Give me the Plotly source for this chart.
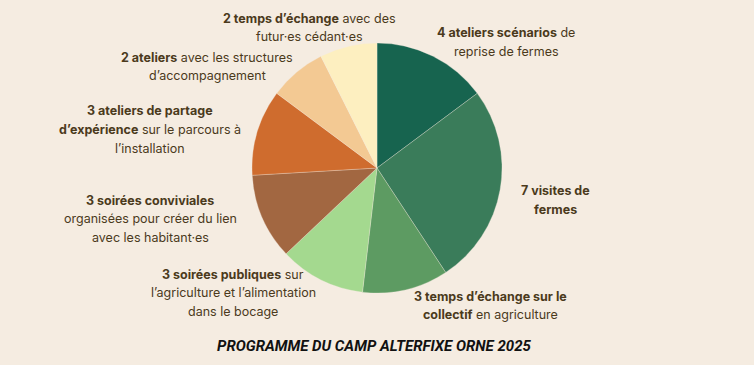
import plotly.graph_objects as go

labels = [
    "4 ateliers scénarios de reprise de fermes",
    "7 visites de fermes",
    "3 temps d'échange sur le collectif en agriculture",
    "3 soirées publiques sur l'agriculture et l'alimentation dans le bocage",
    "3 soirées conviviales organisées pour créer du lien avec les habitant·es",
    "3 ateliers de partage d'expérience sur le parcours à l'installation",
    "2 ateliers avec les structures d'accompagnement",
    "2 temps d'échange avec des futur·es cédant·es",
]
values = [4, 7, 3, 3, 3, 3, 2, 2]
colors = ["#17644f", "#3a7c5a", "#5d9b62", "#a4d98f", "#a26741", "#cf6c2e", "#f3c993", "#fdefc0"]

label_lines = [
    ["<b>4 ateliers scénarios</b> de", "reprise de fermes"],
    ["<b>7 visites de</b>", "<b>fermes</b>"],
    ["<b>3 temps d’échange sur le</b>", "<b>collectif</b> en agriculture"],
    ["<b>3 soirées publiques</b> sur", "l’agriculture et l’alimentation", "dans le bocage"],
    ["<b>3 soirées conviviales</b>", "organisées pour créer du lien", "avec les habitant·es"],
    ["<b>3 ateliers de partage</b>", "<b>d’expérience</b> sur le parcours à", "l’installation"],
    ["<b>2 ateliers</b> avec les structures", "d’accompagnement"],
    ["<b>2 temps d’échange</b> avec des", "futur·es cédant·es"],
]
# label anchor positions (pixels, centre x, first-line centre y)
label_pos = [(506, 33), (555, 191), (490, 296), (233, 274), (150, 200), (150, 111), (207, 57), (309, 18)]

title = "PROGRAMME DU CAMP ALTERFIXE ORNE 2025"

W, H = 754, 365
BG = "#f5ece1"
TXT = "#4b3a1c"
LINE = 18.5

fig = go.Figure(go.Pie(
    labels=labels, values=values, sort=False, direction="clockwise", rotation=0,
    marker=dict(colors=colors, line=dict(color="rgba(245,236,225,0.6)", width=0.5)),
    textinfo="none", hoverinfo="label+value", showlegend=False,
    domain=dict(x=[252 / W, 502 / W], y=[1 - 293 / H, 1 - 43 / H]),
))

annotations = []
for lines, (px, py) in zip(label_lines, label_pos):
    for i, t in enumerate(lines):
        annotations.append(dict(
            text=t, x=px / W, y=1 - (py + i * LINE) / H, xref="paper", yref="paper",
            xanchor="center", yanchor="middle", showarrow=False, align="center",
            font=dict(family="Inter, Roboto, sans-serif", size=12.5, color=TXT),
        ))
annotations.append(dict(
    text="<b><i>" + title + "</i></b>", x=374 / W, y=1 - 346 / H, xref="paper", yref="paper",
    xanchor="center", yanchor="middle", showarrow=False,
    font=dict(family="Roboto, Inter, sans-serif", size=15, color="#111111"),
))

fig.update_layout(
    width=W, height=H, margin=dict(l=0, r=0, t=0, b=0),
    paper_bgcolor=BG, plot_bgcolor=BG, annotations=annotations,
)
fig.write_html("out.html", config={"displayModeBar": False},
               post_script="document.body.style.margin='0';document.body.style.background='" + BG + "';")
